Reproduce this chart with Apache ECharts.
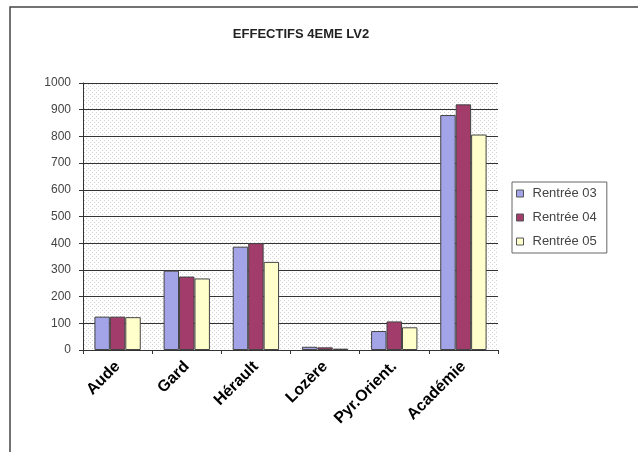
<!DOCTYPE html>
<html>
<head>
<meta charset="utf-8">
<script src="https://cdn.jsdelivr.net/npm/echarts@6/dist/echarts.min.js"></script>
<style>
  html, body { margin: 0; padding: 0; background: #fff; }
  #chart { width: 638px; height: 452px; }
</style>
</head>
<body>
<div id="chart"></div>
<script>
var categories = ['Aude', 'Gard', 'Hérault', 'Lozère', 'Pyr.Orient.', 'Académie'];
var seriesNames = ['Rentrée 03', 'Rentrée 04', 'Rentrée 05'];
var rentree03 = [125, 297, 387, 12, 71, 880];
var rentree04 = [125, 275, 400, 10, 107, 920];
var rentree05 = [123, 268, 330, 5, 85, 807];
var colors = ['#a3a3e8', '#a23d6b', '#ffffcc'];

// dotted background like the old excel plot area
function dots(bg, dot) {
  var c = document.createElement('canvas');
  c.width = 4; c.height = 4;
  var g = c.getContext('2d');
  g.fillStyle = bg; g.fillRect(0, 0, 4, 4);
  g.fillStyle = dot; g.fillRect(0, 0, 1, 1); g.fillRect(2, 2, 1, 1);
  return { image: c, repeat: 'repeat' };
}

var chart = echarts.init(document.getElementById('chart'));
chart.setOption({
  animation: false,
  backgroundColor: '#fff',
  title: {
    text: 'EFFECTIFS 4EME LV2',
    left: 296, top: 23, textAlign: 'center',
    textStyle: { fontFamily: 'Liberation Sans', fontSize: 13, fontWeight: 'bold', color: '#222' }
  },
  graphic: [{
    type: 'rect', shape: { x: 10, y: 7, width: 700, height: 500 },
    style: { fill: 'none', stroke: '#444', lineWidth: 1.5 }, silent: true
  }],
  legend: {
    orient: 'vertical',
    left: 512, top: 182,
    padding: [5, 10, 5, 4],
    itemGap: 11,
    itemWidth: 7, itemHeight: 7,
    borderColor: '#666', borderWidth: 1,
    icon: 'rect',
    itemStyle: { borderColor: '#555', borderWidth: 1 },
    textStyle: { fontFamily: 'Liberation Sans', fontSize: 13, color: '#444', padding: [0, 0, 0, 4] },
    data: seriesNames
  },
  grid: { left: 83, right: 140, top: 83, bottom: 102, show: true,
    backgroundColor: dots('#ffffff', '#d2d2d2'), borderWidth: 0 },
  xAxis: {
    type: 'category',
    data: categories,
    axisLine: { lineStyle: { color: '#333' } },
    axisTick: { show: true, length: 4, lineStyle: { color: '#333' } },
    axisLabel: { rotate: 45, margin: 14, fontFamily: 'Liberation Sans', fontSize: 16, fontWeight: 'bold', color: '#000', interval: 0 }
  },
  yAxis: {
    type: 'value',
    min: 0, max: 1000, interval: 100,
    axisLine: { show: true, lineStyle: { color: '#333' } },
    axisTick: { show: true, length: 4, lineStyle: { color: '#333' } },
    axisLabel: { margin: 12, fontFamily: 'Liberation Sans', fontSize: 12, color: '#444',
      formatter: function(v) { return String(v); } },
    splitLine: { lineStyle: { color: '#333', width: 1 } }
  },
  series: [
    { name: seriesNames[0], type: 'bar', data: rentree03, barGap: '0%', barCategoryGap: '33%',
      itemStyle: { color: colors[0], borderColor: '#444', borderWidth: 1 } },
    { name: seriesNames[1], type: 'bar', data: rentree04,
      itemStyle: { color: colors[1], borderColor: '#444', borderWidth: 1 } },
    { name: seriesNames[2], type: 'bar', data: rentree05,
      itemStyle: { color: colors[2], borderColor: '#444', borderWidth: 1 } }
  ]
});
</script>
</body>
</html>
